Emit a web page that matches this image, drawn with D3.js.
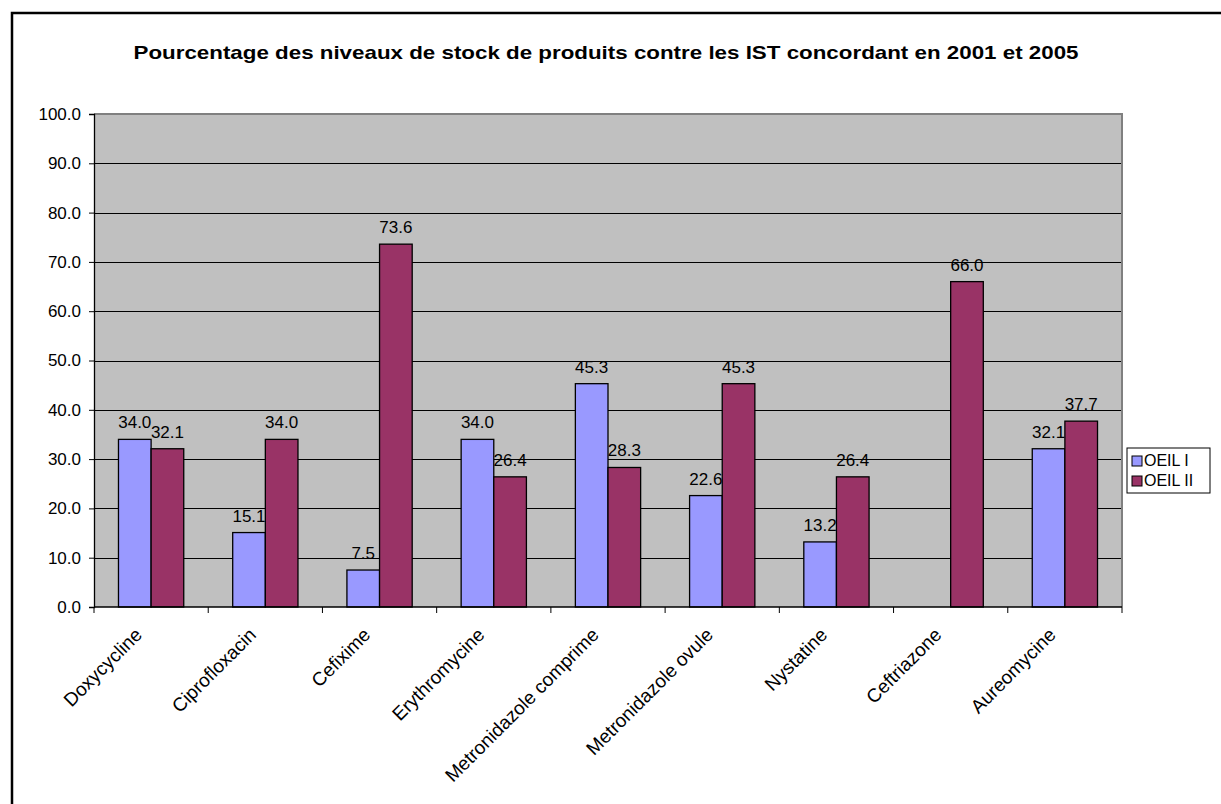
<!DOCTYPE html>
<html>
<head>
<meta charset="utf-8">
<script src="https://cdn.jsdelivr.net/npm/d3@7"></script>
<style>
  html, body { margin: 0; padding: 0; background: #fff; }
  svg { display: block; font-family: "Liberation Sans", Arial, sans-serif; }
</style>
</head>
<body>
<svg id="chart" width="1221" height="804"></svg>
<script>
// Products and stock percentages for the two surveys
const categories = ["Doxycycline", "Ciprofloxacin", "Cefixime", "Erythromycine",
  "Metronidazole comprime", "Metronidazole ovule", "Nystatine", "Ceftriazone", "Aureomycine"];
const seriesNames = ["OEIL I", "OEIL II"];
const oeil1 = [34.0, 15.1, 7.5, 34.0, 45.3, 22.6, 13.2, null, 32.1];
const oeil2 = [32.1, 34.0, 73.6, 26.4, 28.3, 45.3, 26.4, 66.0, 37.7];
const yTicks = [0, 10, 20, 30, 40, 50, 60, 70, 80, 90, 100];
const colors = ["#9999FF", "#993366"];
const title = "Pourcentage des niveaux de stock de produits contre les IST concordant en 2001 et 2005";

const svg = d3.select("#chart");

// Outer chart frame (runs off the right and bottom edges)
svg.append("rect")
  .attr("x", 12).attr("y", 13).attr("width", 1240).attr("height", 820)
  .attr("fill", "#fff").attr("stroke", "#000").attr("stroke-width", 2.5);

const plot = { left: 94, top: 114, right: 1122, bottom: 607 };

const x0 = d3.scaleBand().domain(categories).range([plot.left, plot.right]).padding(0);
// Gap of 150%: each bar = band / 3.5
const x1 = d3.scaleBand().domain(seriesNames)
  .range([x0.bandwidth() * 0.75 / 3.5, x0.bandwidth() - x0.bandwidth() * 0.75 / 3.5]).padding(0);
const y = d3.scaleLinear().domain([0, 100]).range([plot.bottom, plot.top]);

// Plot background
svg.append("rect")
  .attr("x", plot.left).attr("y", plot.top)
  .attr("width", plot.right - plot.left).attr("height", plot.bottom - plot.top)
  .attr("fill", "#C0C0C0");

// Gridlines
svg.append("g").selectAll("line").data(yTicks.filter(t => t > 0 && t < 100)).join("line")
  .attr("x1", plot.left).attr("x2", plot.right)
  .attr("y1", d => Math.round(y(d)) + 0.5).attr("y2", d => Math.round(y(d)) + 0.5)
  .attr("stroke", "#000").attr("stroke-width", 1);

// Plot border top/right
svg.append("path")
  .attr("d", `M${plot.left},${plot.top} H${plot.right} V${plot.bottom}`)
  .attr("fill", "none").attr("stroke", "#808080").attr("stroke-width", 2);

// Bars
const rows = categories.map((c, i) => ({ cat: c, vals: [oeil1[i], oeil2[i]] }));
const groups = svg.append("g").selectAll("g").data(rows).join("g")
  .attr("transform", d => `translate(${x0(d.cat)},0)`);

groups.selectAll("rect")
  .data(d => d.vals.map((v, k) => ({ name: seriesNames[k], v, k })).filter(e => e.v != null))
  .join("rect")
  .attr("x", e => x1(e.name))
  .attr("y", e => y(e.v))
  .attr("width", x1.bandwidth())
  .attr("height", e => y(0) - y(e.v))
  .attr("fill", e => colors[e.k])
  .attr("stroke", "#000").attr("stroke-width", 1.3);

// Value labels
groups.selectAll("text")
  .data(d => d.vals.map((v, k) => ({ name: seriesNames[k], v, k })).filter(e => e.v != null))
  .join("text")
  .attr("x", e => x1(e.name) + x1.bandwidth() / 2)
  .attr("y", e => y(e.v) - 11)
  .attr("text-anchor", "middle")
  .attr("font-size", 17)
  .attr("fill", "#000")
  .text(e => e.v.toFixed(1));

// Y axis
const yAxis = d3.axisLeft(y).tickValues(yTicks).tickSize(5).tickPadding(8)
  .tickFormat(d => d.toFixed(1));
const gy = svg.append("g").attr("transform", `translate(${plot.left},0)`).call(yAxis);
gy.select(".domain").attr("stroke", "#000").attr("stroke-width", 1.3);
gy.selectAll(".tick line").attr("stroke", "#000");
gy.selectAll(".tick text").attr("font-size", 17).attr("font-family", "Liberation Sans, Arial, sans-serif").attr("fill", "#000");

// X axis with ticks at category boundaries
const gx = svg.append("g").attr("transform", `translate(0,${plot.bottom})`);
gx.append("line").attr("x1", plot.left).attr("x2", plot.right)
  .attr("stroke", "#000").attr("stroke-width", 1.3);
const bounds = categories.map(c => x0(c)).concat([plot.right]);
gx.selectAll("line.tk").data(bounds).join("line").attr("class", "tk")
  .attr("x1", d => d).attr("x2", d => d).attr("y1", 0).attr("y2", 6)
  .attr("stroke", "#000");
gx.selectAll("text").data(categories).join("text")
  .attr("transform", d => `translate(${x0(d) + x0.bandwidth() / 2 - 8},${29}) rotate(-45)`)
  .attr("text-anchor", "end")
  .attr("font-size", 19)
  .attr("fill", "#000")
  .text(d => d);

// Title
svg.append("text")
  .attr("x", 606).attr("y", 59)
  .attr("text-anchor", "middle")
  .attr("font-size", 19).attr("font-weight", "bold")
  .attr("textLength", 945).attr("lengthAdjust", "spacingAndGlyphs")
  .text(title);

// Legend
const lg = svg.append("g").attr("transform", "translate(1127,448)");
lg.append("rect").attr("width", 83).attr("height", 45)
  .attr("fill", "#fff").attr("stroke", "#000").attr("stroke-width", 1);
seriesNames.forEach((n, k) => {
  lg.append("rect").attr("x", 5).attr("y", 8 + k * 20).attr("width", 10).attr("height", 10)
    .attr("fill", colors[k]).attr("stroke", "#000").attr("stroke-width", 1);
  lg.append("text").attr("x", 17).attr("y", 18 + k * 20)
    .attr("font-size", 16).attr("fill", "#000").text(n);
});
</script>
</body>
</html>
